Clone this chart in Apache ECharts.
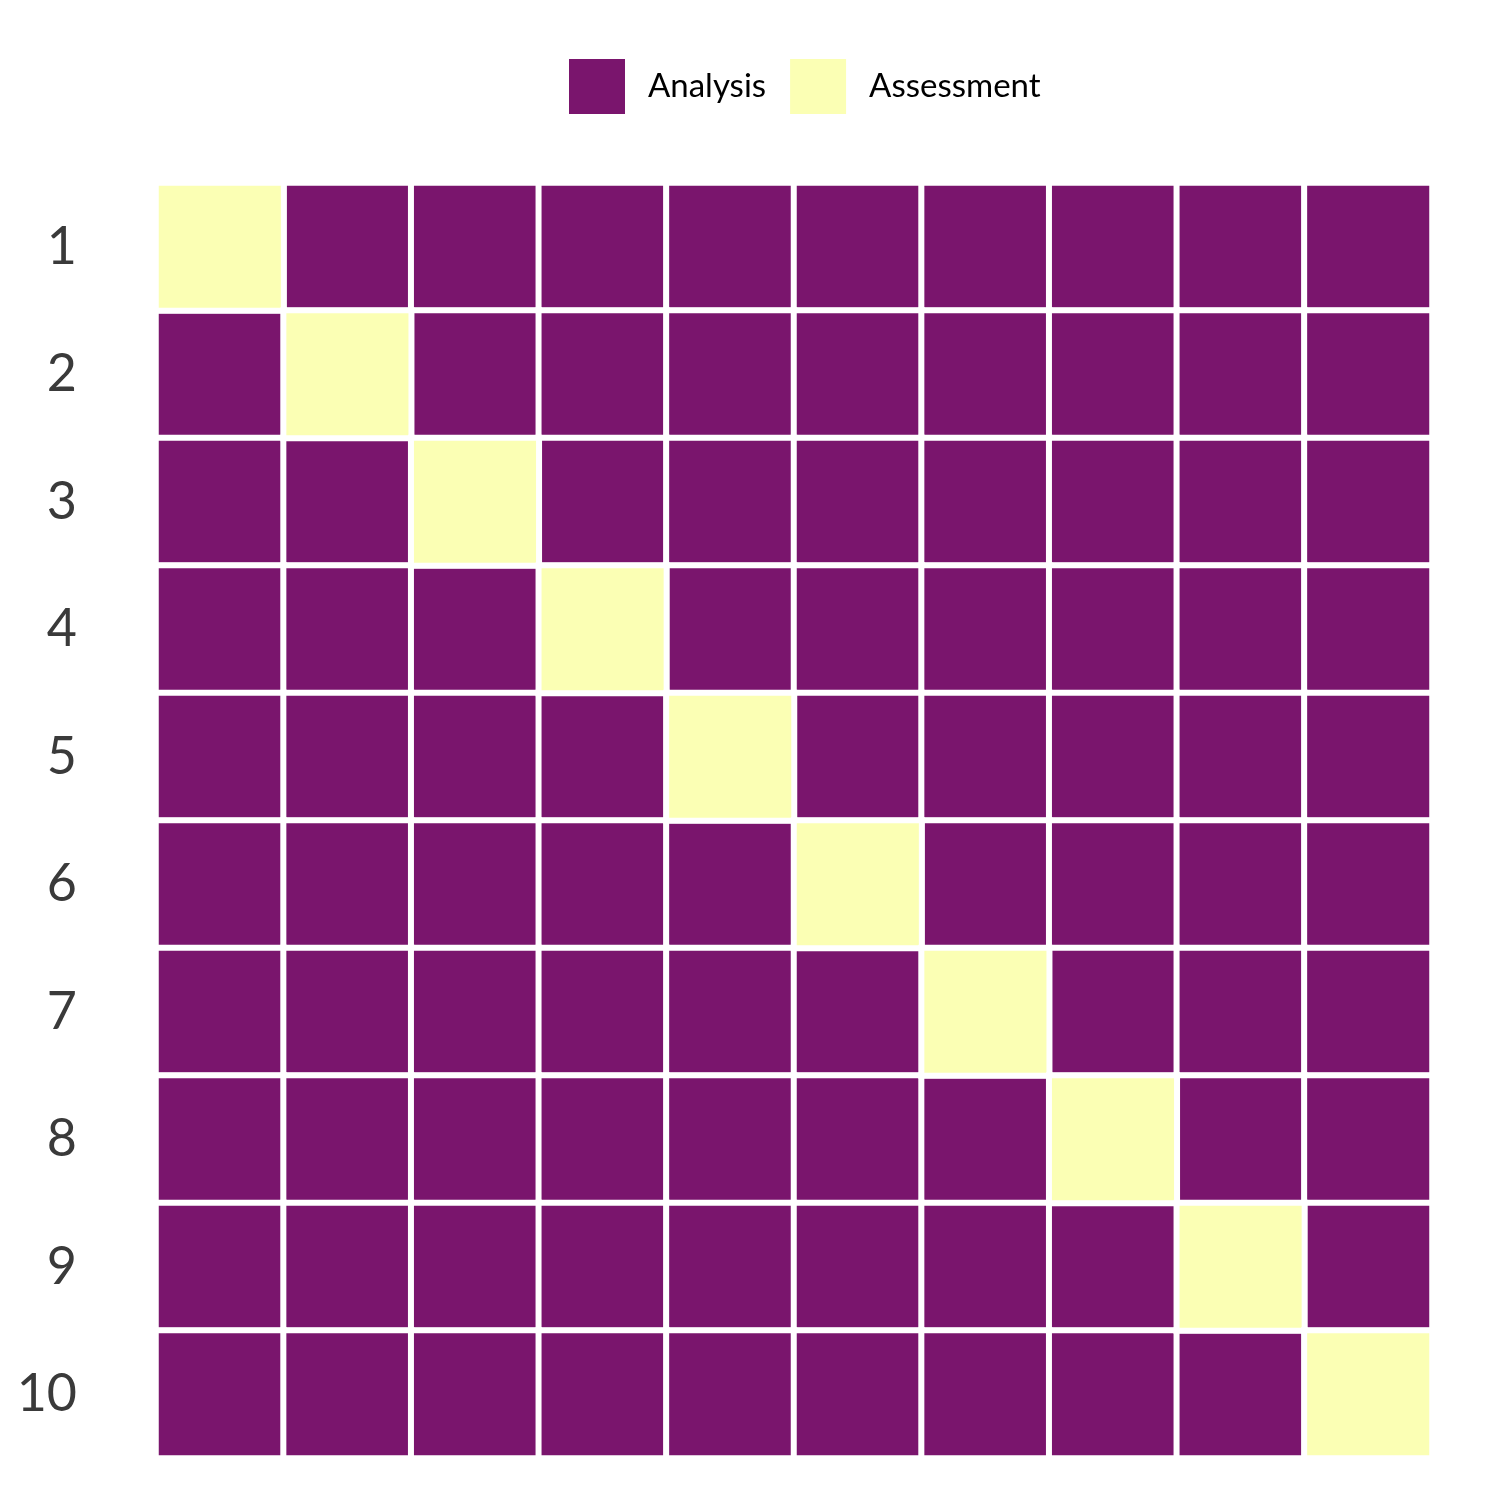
<!DOCTYPE html>
<html>
<head>
<meta charset="utf-8">
<script src="https://cdn.jsdelivr.net/npm/echarts@6/dist/echarts.min.js"></script>
<style>
  html, body { margin: 0; padding: 0; background: #fff; }
  #chart { width: 1512px; height: 1512px; }
</style>
</head>
<body>
<div id="chart"></div>
<script>
// row labels (top to bottom) and columns
const rows = ['1', '2', '3', '4', '5', '6', '7', '8', '9', '10'];
const cols = ['1', '2', '3', '4', '5', '6', '7', '8', '9', '10'];
// column index of the Assessment cell in each row; everything else is Analysis
const assessmentCol = [0, 1, 2, 3, 4, 5, 6, 7, 8, 9];

const analysisData = [];
const assessmentData = [];
rows.forEach((r, ri) => {
  cols.forEach((c, ci) => {
    if (assessmentCol[ri] === ci) assessmentData.push([ci, ri, 1]);
    else analysisData.push([ci, ri, 1]);
  });
});

const chart = echarts.init(document.getElementById('chart'));
chart.setOption({
  animation: false,
  legend: {
    top: 52,
    left: 562,
    padding: 5,
    icon: 'rect',
    itemWidth: 58,
    itemHeight: 57,
    itemGap: 22,
    textStyle: { fontFamily: 'Lato', fontSize: 33, color: '#000', padding: [0, 0, 0, 17] },
    data: ['Analysis', 'Assessment']
  },
  grid: { left: 156, right: 80, top: 183, bottom: 54 },
  xAxis: {
    type: 'category',
    data: cols,
    show: false
  },
  yAxis: {
    type: 'category',
    data: rows,
    inverse: true,
    axisLine: { show: false },
    axisTick: { show: false },
    splitLine: { show: false },
    axisLabel: { fontFamily: 'Lato', fontSize: 52, color: '#3a3a3a', margin: 79 }
  },
  series: [
    {
      name: 'Analysis',
      type: 'heatmap',
      data: analysisData,
      itemStyle: { color: '#7a156d', borderColor: '#fff', borderWidth: 6 }
    },
    {
      name: 'Assessment',
      type: 'heatmap',
      data: assessmentData,
      itemStyle: { color: '#fbffb4', borderColor: '#fff', borderWidth: 6 }
    }
  ]
});
</script>
</body>
</html>
